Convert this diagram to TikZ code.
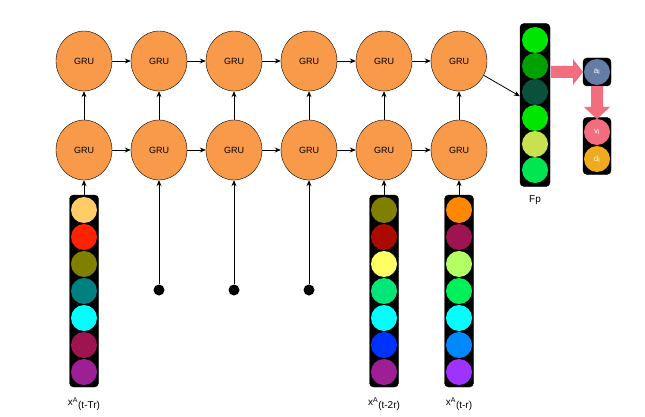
\documentclass[tikz,border=0pt]{standalone}
\usepackage{fontspec}
\setmainfont{Liberation Sans}
\usetikzlibrary{shapes.geometric,arrows.meta}
\definecolor{gruor}{HTML}{F89A4A}
\definecolor{pinkar}{HTML}{F26D7D}
\definecolor{aA}{HTML}{FFCC66}\definecolor{aB}{HTML}{FF2200}\definecolor{aC}{HTML}{808000}
\definecolor{aD}{HTML}{008080}\definecolor{aE}{HTML}{00FFFF}\definecolor{aF}{HTML}{9E1450}
\definecolor{aG}{HTML}{9E1E96}
\definecolor{bB}{HTML}{AA0A00}\definecolor{bC}{HTML}{FFFF64}\definecolor{bD}{HTML}{00E678}
\definecolor{bF}{HTML}{0032FF}
\definecolor{cA}{HTML}{FF8800}\definecolor{cC}{HTML}{B4FF64}\definecolor{cD}{HTML}{00F05A}
\definecolor{cF}{HTML}{0088FF}\definecolor{cG}{HTML}{A032FF}
\definecolor{fA}{HTML}{00E600}\definecolor{fB}{HTML}{00A000}\definecolor{fC}{HTML}{0A503C}
\definecolor{fE}{HTML}{C8E150}\definecolor{fF}{HTML}{00E650}
\definecolor{oA}{HTML}{647DA5}\definecolor{oD}{HTML}{F0AA1E}
\begin{document}
\begin{tikzpicture}[x=1pt,y=-1pt,
 gru/.style={ellipse,draw=black,fill=gruor,minimum width=56pt,minimum height=60pt,inner sep=0pt,font=\small},
 ar/.style={-{Stealth[length=6pt,width=5pt]},thick},
 col/.style={draw=black,fill=black,rounded corners=4pt},
 dot/.style={circle,fill=#1,minimum size=26pt,inner sep=0pt}]
\useasboundingbox (0,0) rectangle (645,417);
\foreach \i/\x in {1/84,2/159,3/234,4/309,5/384,6/459}{
 \node[gru] (t\i) at (\x,61) {GRU};
 \node[gru] (b\i) at (\x,150) {GRU};
 \draw[ar] (b\i) -- (t\i);
}
\foreach \i/\j in {1/2,2/3,3/4,4/5,5/6}{
 \draw[ar] (t\i) -- (t\j);
 \draw[ar] (b\i) -- (b\j);
}
\newcommand{\incol}[3]{%
 \node[col,minimum width=29pt,minimum height=192pt] (#1) at (#2,291) {};
 \foreach \c [count=\k] in {#3}{\node[dot=\c] at (#2,210+27*\k-27) {};}
}
\incol{c1}{84}{aA,aB,aC,aD,aE,aF,aG}
\incol{c5}{384}{aC,bB,bC,bD,aE,bF,aG}
\incol{c6}{459}{cA,aF,cC,cD,aE,cF,cG}
\draw[ar] (c1) -- (b1);
\draw[ar] (c5) -- (b5);
\draw[ar] (c6) -- (b6);
\node at (84,404) {x\textsuperscript{A}\raisebox{-0.5ex}{(t-Tr)}};
\node at (384,404) {x\textsuperscript{A}\raisebox{-0.5ex}{(t-2r)}};
\node at (459,404) {x\textsuperscript{A}\raisebox{-0.5ex}{(t-r)}};
\foreach \i/\x in {2/159,3/234,4/309}{
 \node[circle,fill=black,minimum size=11pt,inner sep=0pt] (d\i) at (\x,290) {};
 \draw[ar] (d\i) -- (b\i);
}
\node[col,minimum width=30pt,minimum height=163pt] (fp) at (535,105) {};
\foreach \c [count=\k] in {fA,fB,fC,fA,fE,fF}{
 \node[dot=\c] at (535,40+26*\k-26) {};}
\node at (535,200) {Fp};
\draw[ar] (t6) -- (fp);
\node[col,minimum width=28pt,minimum height=28pt] (ab) at (597,72) {};
\node[dot=oA,font=\footnotesize,text=white] at (597,72) {a\textsubscript{l}};
\node[col,minimum width=28pt,minimum height=57pt] (vd) at (597,146) {};
\node[dot=pinkar,font=\footnotesize,text=white] at (597,132) {v\textsubscript{l}};
\node[dot=oD,font=\footnotesize,text=white] at (597,159) {d\textsubscript{l}};
\fill[pinkar] (551,66) -- (573,66) -- (573,59) -- (583,72) -- (573,85) -- (573,78) -- (551,78) -- cycle;
\fill[pinkar] (591,86) -- (603,86) -- (603,107) -- (610,107) -- (597,119) -- (584,107) -- (591,107) -- cycle;
\end{tikzpicture}
\end{document}
